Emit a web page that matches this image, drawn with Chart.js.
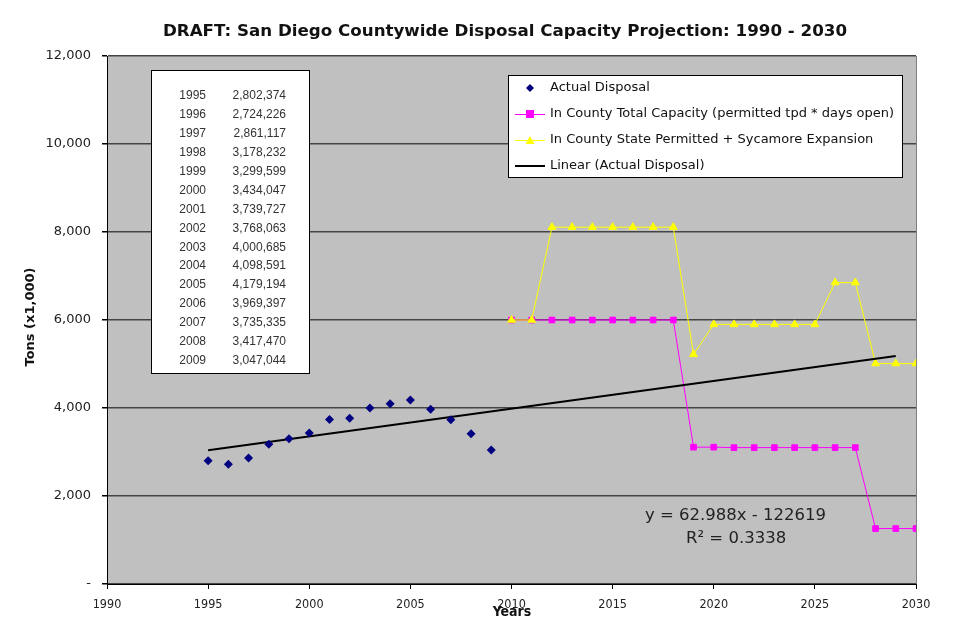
<!DOCTYPE html>
<html><head><meta charset="utf-8">
<script src="https://cdn.jsdelivr.net/npm/chart.js@4"></script>
<style>html,body{margin:0;padding:0;background:#fff}#wrap{width:960px;height:640px;position:relative}</style>
</head><body><div id="wrap"><canvas id="c" width="960" height="640"></canvas></div>
<script>
// ---- data ----
const actualYears = [1995,1996,1997,1998,1999,2000,2001,2002,2003,2004,2005,2006,2007,2008,2009];
const actualTons  = [2802374,2724226,2861117,3178232,3299599,3434047,3739727,3768063,4000685,4098591,4179194,3969397,3735335,3417470,3047044];
const capYears = [2010,2011,2012,2013,2014,2015,2016,2017,2018,2019,2020,2021,2022,2023,2024,2025,2026,2027,2028,2029,2030];
const totalCapacity = [6000,6000,6000,6000,6000,6000,6000,6000,6000,3110,3110,3100,3100,3100,3100,3100,3100,3100,1260,1260,1260];
const statePermitted = [6000,6000,8110,8110,8110,8110,8110,8110,8110,5220,5900,5900,5900,5900,5900,5900,6850,6850,5010,5010,5010];
const trendYears = [1995,2029];
const trendValues = [3042,5184];
const seriesNames = ['Actual Disposal','In County Total Capacity (permitted tpd * days open)','In County State Permitted + Sycamore Expansion','Linear (Actual Disposal)'];
const titleText = 'DRAFT: San Diego Countywide Disposal Capacity Projection: 1990 - 2030';
const equationText = ['y = 62.988x - 122619','R² = 0.3338'];

const pts = (xs, ys) => xs.map((x,i)=>({x, y: ys[i]}));
const fmt = n => n.toLocaleString('en-US');

const colors = {navy:'#000080', magenta:'#ff00ff', yellow:'#ffff00', black:'#000000'};

const decor = {
  id:'decor',
  beforeDraw(chart){
    const {ctx, chartArea:a} = chart;
    ctx.save();
    ctx.fillStyle='#fff'; ctx.fillRect(0,0,chart.width,chart.height);
    ctx.fillStyle='#c0c0c0'; ctx.fillRect(a.left,a.top,a.right-a.left,a.bottom-a.top);
    ctx.strokeStyle='#808080'; ctx.lineWidth=1;
    ctx.beginPath(); ctx.moveTo(a.right+0.5,a.top); ctx.lineTo(a.right+0.5,a.bottom); ctx.stroke();
    ctx.restore();
  },
  afterDraw(chart){
    const {ctx} = chart;
    ctx.save();
    // title
    ctx.fillStyle='#111'; ctx.textAlign='center'; ctx.textBaseline='middle';
    ctx.font='bold 16.7px "DejaVu Sans"';
    ctx.fillText(titleText, 505, 32);
    // axis titles
    ctx.font='bold 13px "DejaVu Sans"';
    ctx.save(); ctx.translate(31,317); ctx.rotate(-Math.PI/2); ctx.fillText('Tons (x1,000)',0,0); ctx.restore();
    ctx.font='bold 14px "DejaVu Sans Condensed", "Liberation Sans Narrow", sans-serif';
    ctx.fillText('Years', 512, 612);
    // table
    ctx.fillStyle='#fff'; ctx.fillRect(151,70,159,304);
    ctx.strokeStyle='#000'; ctx.lineWidth=1; ctx.strokeRect(151.5,70.5,158,303);
    ctx.fillStyle='#333'; ctx.font='12px "Liberation Sans", Arial, sans-serif'; ctx.textAlign='right';
    actualYears.forEach((y,i)=>{
      const yy = 96 + i*18.9;
      ctx.fillText(String(y), 206, yy);
      ctx.fillText(fmt(actualTons[i]), 286, yy);
    });
    // legend
    ctx.fillStyle='#fff'; ctx.fillRect(508,75,395,103);
    ctx.strokeStyle='#000'; ctx.strokeRect(508.5,75.5,394,102);
    const rows=[88,114,140,166];
    ctx.textAlign='left'; ctx.fillStyle='#111'; ctx.font='13px "DejaVu Sans"';
    rows.forEach((ry,i)=>{ ctx.fillText(seriesNames[i], 550, ry); });
    // legend samples
    ctx.fillStyle=colors.navy; ctx.beginPath();
    ctx.moveTo(530,84); ctx.lineTo(534,88); ctx.lineTo(530,92); ctx.lineTo(526,88); ctx.closePath(); ctx.fill();
    ctx.strokeStyle=colors.magenta; ctx.lineWidth=1; ctx.beginPath(); ctx.moveTo(515,114.5); ctx.lineTo(545,114.5); ctx.stroke();
    ctx.fillStyle=colors.magenta; ctx.fillRect(526,110,8,8);
    ctx.strokeStyle=colors.yellow; ctx.beginPath(); ctx.moveTo(515,140.5); ctx.lineTo(545,140.5); ctx.stroke();
    ctx.fillStyle=colors.yellow; ctx.beginPath(); ctx.moveTo(530,136); ctx.lineTo(534.5,144); ctx.lineTo(525.5,144); ctx.closePath(); ctx.fill();
    ctx.strokeStyle='#000'; ctx.lineWidth=2; ctx.beginPath(); ctx.moveTo(515,166); ctx.lineTo(545,166); ctx.stroke();
    // equation
    ctx.fillStyle='#222'; ctx.font='16.5px "DejaVu Sans"'; ctx.textAlign='left';
    ctx.fillText(equationText[0], 645, 516);
    ctx.fillText(equationText[1], 686, 539);
    ctx.restore();
  }
};

new Chart(document.getElementById('c'), {
  type:'scatter',
  data:{ datasets:[
    {label:seriesNames[0], data:pts(actualYears, actualTons.map(v=>v/1000)), showLine:false,
     pointStyle:'rectRot', pointRadius:4.5, backgroundColor:colors.navy, borderColor:colors.navy, borderWidth:0, order:0},
    {label:seriesNames[3], data:pts(trendYears, trendValues), showLine:true, pointRadius:0,
     borderColor:colors.black, borderWidth:2, order:1},
    {label:seriesNames[2], data:pts(capYears, statePermitted), showLine:true, pointStyle:'triangle', pointRadius:4.5,
     backgroundColor:colors.yellow, borderColor:colors.yellow, borderWidth:1, order:2},
    {label:seriesNames[1], data:pts(capYears, totalCapacity), showLine:true, pointStyle:'rect', pointRadius:4,
     backgroundColor:colors.magenta, borderColor:colors.magenta, borderWidth:1, order:3}
  ]},
  options:{
    responsive:false, animation:false,
    layout:{padding:{top:56,right:44,left:0,bottom:0}},
    plugins:{legend:{display:false}, title:{display:false}, tooltip:{enabled:false}},
    scales:{
      x:{type:'linear', min:1990, max:2030,
        afterFit(s){ s.height=56; },
        ticks:{stepSize:5, padding:8, color:'#222', font:{family:'"DejaVu Sans Condensed", "Liberation Sans Narrow", sans-serif', size:12.5}, callback:v=>String(v)},
        grid:{drawOnChartArea:false, drawTicks:true, tickLength:5, tickColor:'#000'},
        border:{color:'#000', width:1}},
      y:{min:0, max:12000,
        afterFit(s){ s.width=107; },
        ticks:{stepSize:2000, padding:11, color:'#222', font:{family:'"DejaVu Sans"', size:13}, callback:v=> v===0?'-':fmt(v)},
        grid:{color:'#444', lineWidth:1.5, drawTicks:true, tickLength:5, tickColor:'#000'},
        border:{color:'#000', width:1}}
    }
  },
  plugins:[decor]
});
</script></body></html>
